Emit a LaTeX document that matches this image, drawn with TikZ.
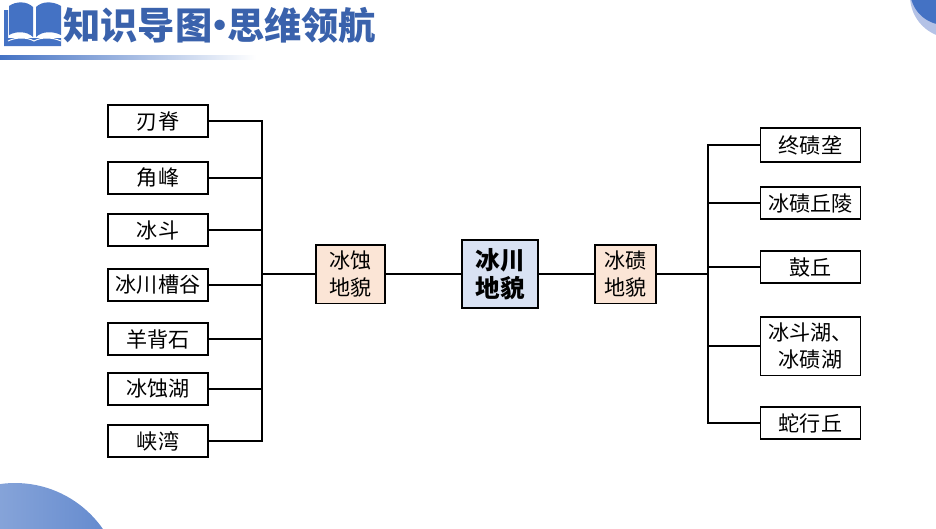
\documentclass[tikz,border=0pt]{standalone}
\usepackage{xcolor}
\usepackage{fontspec}
\setmainfont{Noto Sans CJK SC}
\definecolor{kgblue}{RGB}{68,114,196}
\definecolor{kgtitle}{RGB}{58,98,172}
\definecolor{kgpale}{RGB}{180,194,230}
\definecolor{kgcore}{RGB}{217,226,243}
\definecolor{kgpeach}{RGB}{251,229,214}
\usetikzlibrary{arrows.meta, positioning, shapes.geometric, calc}
\tikzset{
  leafbox/.style={draw=black, fill=white, line width=1.3pt, minimum width=2.5cm, minimum height=0.82cm,
                  inner sep=1pt, outer sep=0pt, align=center, font=\fontsize{15}{19}\selectfont},
  midbox/.style={leafbox, fill=kgpeach, minimum height=1.47cm},
  corebox/.style={leafbox, fill=kgcore, minimum width=1.9cm, minimum height=1.7cm,
                  font=\fontsize{17.5}{20}\selectfont\bfseries},
  link/.style={black, line width=1.3pt}
}

\begin{document}
\begin{tikzpicture}[x=0.025cm, y=-0.025cm]
\useasboundingbox (0,0) rectangle (936,528);

% === Corner decoration ===
\begin{scope}
\clip (0,0) rectangle (936,528);
\shade[left color=kgblue!50, right color=kgblue!85] (15,590) circle (107);
\fill[kgpale] (952,-4) circle (42);
\fill[kgblue] (945,-10) circle (35);
\end{scope}

% === Header ===
% Book icon
\fill[kgblue] (4,10) -- (8,10) -- (8,38) -- (32,38) -- (36,38) -- (61,38) -- (61,46) -- (4,46) -- cycle;
\fill[kgblue] (9,6) .. controls (16,1) and (27,1) .. (33,7) -- (33,37) .. controls (27,31) and (16,31) .. (9,35) -- cycle;
\fill[kgblue] (36,7) .. controls (42,1) and (53,1) .. (61,6) -- (61,35) .. controls (53,31) and (42,31) .. (36,37) -- cycle;
\draw[white, line width=0.7pt] (8,41) .. controls (16,37) and (27,37) .. (34,41) .. controls (41,37) and (52,37) .. (61,41);
\node[font=\fontsize{26.5}{30}\selectfont\bfseries, kgtitle, inner sep=0pt, anchor=west] (title) at (63,25)
     {知识导图\hspace{-8pt}·\hspace{-8pt}思维领航};
\shade[left color=kgblue, right color=white] (0,55) rectangle (256,59);

% === Centre ===
\node[corebox] (core) at (500,274) {冰川\\地貌};

% === Left branch ===
\node[midbox, minimum width=1.72cm] (erosion) at (350.5,274) {冰蚀\\地貌};
\coordinate (lhub) at (262,274);

\node[leafbox] (ridge) at (158,121) {刃脊};
\node[leafbox] (horn) at (158,178) {角峰};
\node[leafbox] (cirque) at (158,230) {冰斗};
\node[leafbox] (trough) at (158,285) {冰川槽谷};
\node[leafbox] (roche) at (158,339) {羊背石};
\node[leafbox] (erolake) at (158,389) {冰蚀湖};
\node[leafbox] (fjord) at (158,441) {峡湾};

\foreach \leaf in {ridge,horn,cirque,trough,roche,erolake,fjord} {
    \draw[link] (\leaf.east) -| (lhub);
}
\draw[link] (core) -- (erosion);
\draw[link] (erosion) -- (lhub);

% === Right branch ===
\node[midbox, minimum width=1.52cm] (moraine) at (625.5,274) {冰碛\\地貌};
\coordinate (rhub) at (708,274);

\node[leafbox, minimum height=0.87cm] (endmor) at (810.5,145) {终碛垄};
\node[leafbox] (hills) at (810.5,203) {冰碛丘陵};
\node[leafbox] (drumlin) at (810.5,267) {鼓丘};
\node[leafbox, minimum height=1.47cm] (lakes) at (810.5,346) {冰斗湖、\\冰碛湖};
\node[leafbox] (esker) at (810.5,423) {蛇行丘};

\foreach \leaf in {endmor,hills,drumlin,lakes,esker} {
    \draw[link] (\leaf.west) -| (rhub);
}
\draw[link] (core) -- (moraine);
\draw[link] (moraine) -- (rhub);

\end{tikzpicture}
\end{document}
